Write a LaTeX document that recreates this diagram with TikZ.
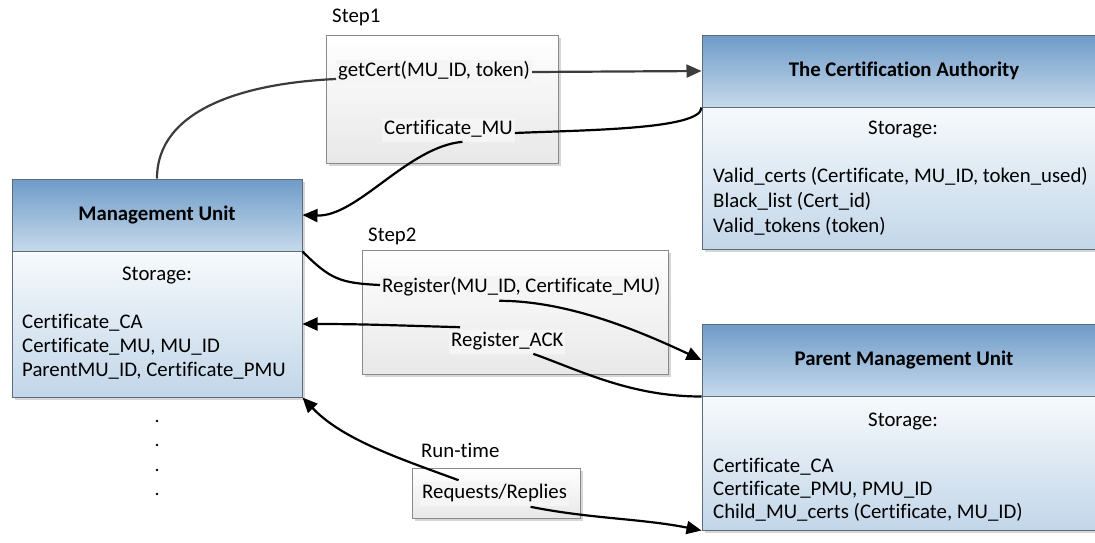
\documentclass[tikz,border=0pt]{standalone}
\usepackage{fontspec}
\setmainfont{Carlito}[Ligatures={NoCommon}]
\usetikzlibrary{arrows.meta,calc}
\definecolor{headtop}{HTML}{6E9BC8}
\definecolor{headbot}{HTML}{C6D9EB}
\definecolor{bodytop}{HTML}{F7FAFC}
\definecolor{bodybot}{HTML}{C2D6E9}
\definecolor{boxline}{HTML}{5E6B78}
\definecolor{stepline}{HTML}{8A8A8A}
\definecolor{shadowgray}{HTML}{D6D6D6}
\definecolor{wire}{HTML}{3C3C3C}
\begin{document}
\begin{tikzpicture}[x=1pt,y=-1pt,
  txt/.style={font=\fontsize{20.8}{25}\selectfont, text height=14.4pt, text depth=4.8pt, inner sep=2pt},
  head/.style={draw=boxline, line width=1pt, top color=headtop, bottom color=headbot,
    minimum height=72pt, inner sep=0pt, font=\fontsize{20.8}{25}\selectfont\bfseries},
  body/.style={draw=boxline, line width=1pt, top color=bodytop, bottom color=bodybot, inner sep=0pt},
  stepbox/.style={draw=stepline, line width=1pt, top color=white, bottom color=black!9, inner sep=0pt},
  msg/.style={txt, fill=black!4},
  link/.style={line width=2.2pt, draw=black},
  tip/.style={-{Triangle[length=15pt,width=13pt]}},
]
\useasboundingbox (0,0) rectangle (1095,542);

% drop shadows behind the boxes
\fill[shadowgray] (15,182) rectangle (305,400);
\fill[shadowgray] (705,38) rectangle (1109,252);
\fill[shadowgray] (705,327) rectangle (1109,533);
\fill[shadowgray] (329,38) rectangle (561,166);
\fill[shadowgray] (365,253) rectangle (671,377);
\fill[shadowgray] (415,471) rectangle (583,521);

% Management Unit
\node[head, minimum width=290pt] (muHead) at (157,215) {Management Unit};
\node[body, minimum width=290pt, minimum height=146pt] (muBody) at (157,324) {};
\node[txt] (muStore) at (157,276) {Storage:};
\node[txt, anchor=west] (muL1) at (20,324) {Certificate\_CA};
\node[txt, anchor=west] (muL2) at (20,348) {Certificate\_MU, MU\_ID};
\node[txt, anchor=west] (muL3) at (20,372) {ParentMU\_ID, Certificate\_PMU};

% The Certification Authority
\node[head, minimum width=404pt] (caHead) at (904,71) {The Certification Authority};
\node[body, minimum width=404pt, minimum height=142pt] (caBody) at (904,178) {};
\node[txt] (caStore) at (903,130) {Storage:};
\node[txt, anchor=west] (caL1) at (711,178) {Valid\_certs (Certificate, MU\_ID, token\_used)};
\node[txt, anchor=west] (caL2) at (711,203) {Black\_list (Cert\_id)};
\node[txt, anchor=west] (caL3) at (711,228) {Valid\_tokens (token)};

% Parent Management Unit
\node[head, minimum width=404pt] (pmuHead) at (904,360) {Parent Management Unit};
\node[body, minimum width=404pt, minimum height=134pt] (pmuBody) at (904,463) {};
\node[txt] (pmuStore) at (903,422) {Storage:};
\node[txt, anchor=west] (pmuL1) at (711,468) {Certificate\_CA};
\node[txt, anchor=west] (pmuL2) at (711,491) {Certificate\_PMU, PMU\_ID};
\node[txt, anchor=west] (pmuL3) at (711,514) {Child\_MU\_certs (Certificate, MU\_ID)};

% protocol phases
\node[stepbox, minimum width=232pt, minimum height=128pt] (step1) at (442,99) {};
\node[txt, anchor=west] (step1Label) at (330,18) {Step1};
\node[msg, anchor=west] (getcert) at (336,72) {getCert(MU\_ID, token)};
\node[msg, anchor=west] (certmu) at (382,130) {Certificate\_MU};

\node[stepbox, minimum width=306pt, minimum height=124pt] (step2) at (515,312) {};
\node[txt, anchor=west] (step2Label) at (366,237) {Step2};
\node[msg, anchor=west] (register) at (380,288) {Register(MU\_ID, Certificate\_MU)};
\node[msg, anchor=west] (regack) at (449,342) {Register\_ACK};

\node[stepbox, minimum width=168pt, minimum height=50pt] (runbox) at (496,493) {};
\node[txt, anchor=west] (runLabel) at (419,453) {Run-time};
\node[msg, anchor=west] (reqrep) at (420,494) {Requests/Replies};

% further management units
\foreach \yy in {421,445,470,494} \fill (157,\yy) circle (1.4pt);

% Step1: certificate request and reply
\draw[link, draw=wire] (muHead.north) .. controls +(0,-70) and +(-90,4) .. ($(getcert.west)+(0,7)$);
\draw[link, draw=wire, tip] (getcert.east) -- (caHead.west);
\draw[link] (caHead.south west) .. controls +(0,22) and +(70,-3) .. ($(certmu.east)+(0,3)$);
\draw[link, tip] ($(certmu.south)+(14,0)$) .. controls +(-55,5) and +(55,2) .. (muHead.east);

% Step2: registration with the parent unit
\draw[link] (muHead.south east) .. controls +(28,28) and +(-40,-2) .. ($(register.west)+(0,-3)$);
\draw[link, tip] ($(register.south)+(-22,1)$) .. controls +(70,0) and +(-60,-28) .. (pmuHead.west);
\draw[link] (pmuHead.south west) .. controls +(-70,0) and +(50,18) .. ($(regack.south)+(26,0)$);
\draw[link, tip] ($(regack.north west)+(11,-3)$) .. controls +(-70,-2) and +(60,0) .. (muBody.east);

% Run-time traffic
\draw[link, tip] ($(reqrep.north)+(-36,-2)$) .. controls +(-60,-22) and +(40,42) .. (muBody.south east);
\draw[link, tip] ($(reqrep.south)+(36,1)$) .. controls +(60,12) and +(-60,-12) .. (pmuBody.south west);
\end{tikzpicture}
\end{document}
